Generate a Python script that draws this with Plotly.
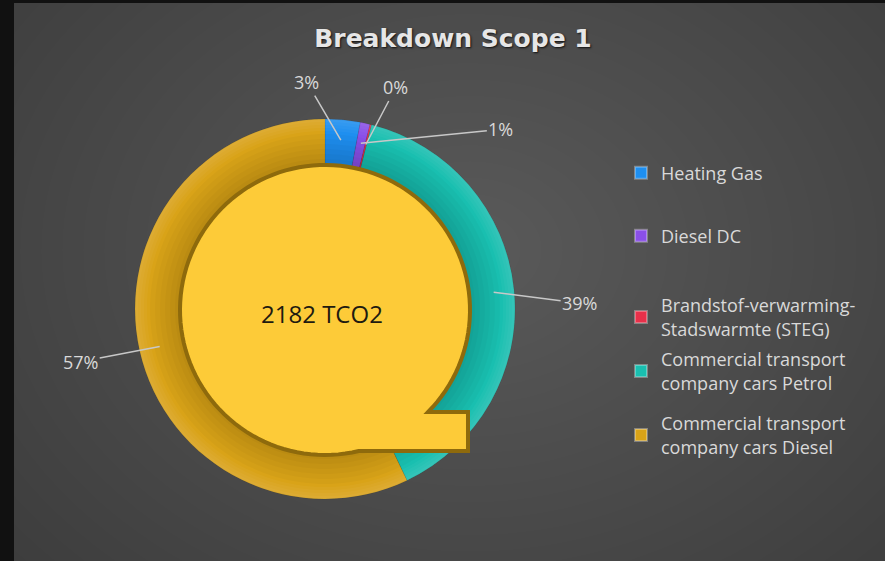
import math
import plotly.graph_objects as go

# ── Data ──────────────────────────────────────────────────────────────────────
CATEGORIES = [
    "Heating Gas",
    "Diesel DC",
    "Brandstof-verwarming-<br>Stadswarmte (STEG)",
    "Commercial transport<br>company cars Petrol",
    "Commercial transport<br>company cars Diesel",
]
EMISSIONS = [65, 18, 3, 850, 1246]   # tCO2, total 2182
UNIT = "TCO2"

# ── Style ─────────────────────────────────────────────────────────────────────
COLORS = ["#1E8FF0", "#8A4FE8", "#E8304A", "#19BFB0", "#D9A318"]
C_TEXT = "#D9D9D9"
C_BG = "#3A3A3A"
W, H = 885, 561
CX, CY, R_OUT, R_IN = 325, 309, 190, 145      # ring geometry, px
LABEL_OFFSETS = [(-34, -58), (140, -14), (30, -57), (86, 11), (-79, 15)]
LEGEND_Y = [173, 236, 317, 371, 435]           # px centres of legend entries
FONT = "'Open Sans', sans-serif"


def px(x, y):
    return x / W, 1 - y / H


def ring(r0, r1, n=180):
    """closed annulus path in paper coords (inner circle reversed -> hole)"""
    outer = [px(CX + r1 * math.cos(2 * math.pi * i / n), CY + r1 * math.sin(2 * math.pi * i / n)) for i in range(n)]
    inner = [px(CX + r0 * math.cos(-2 * math.pi * i / n), CY + r0 * math.sin(-2 * math.pi * i / n)) for i in range(n)]
    f = lambda pts: "M " + " L ".join(f"{a:.5f},{b:.5f}" for a, b in pts) + " Z"
    return f(outer) + " " + f(inner)


total = sum(EMISSIONS)
pcts = [v / total * 100 for v in EMISSIONS]

fig = go.Figure()
fig.add_trace(go.Pie(
    labels=CATEGORIES, values=EMISSIONS,
    sort=False, direction="clockwise", rotation=0,
    hole=0.74, textinfo="none", showlegend=False,
    marker=dict(colors=COLORS, line=dict(color="rgba(0,0,0,0.15)", width=0.5)),
    domain=dict(x=[(CX - R_OUT) / W, (CX + R_OUT) / W],
                y=[1 - (CY + R_OUT) / H, 1 - (CY - R_OUT) / H]),
    hovertemplate="%{label}: %{value} tCO2 (%{percent})<extra></extra>",
))

# legend entries, each in its own legend box so they can be spread like the original
legends = {}
for i, (name, color) in enumerate(zip(CATEGORIES, COLORS)):
    key = "legend" if i == 0 else f"legend{i + 1}"
    fig.add_trace(go.Scatter(
        x=[None], y=[None], mode="markers", name=name, legend=key,
        marker=dict(symbol="square", size=8, color=color,
                    line=dict(color="rgba(255,255,255,0.3)", width=1)),
    ))
    legends[key] = dict(x=621 / W, y=1 - LEGEND_Y[i] / H, xanchor="left", yanchor="middle",
                        bgcolor="rgba(0,0,0,0)", itemsizing="constant",
                        font=dict(family=FONT, size=18, color=C_TEXT))

# percentage labels with leader lines, anchored at slice mid-angles
annotations = []
cum = 0
r_mid = (R_OUT + R_IN) / 2 + 2
for v, p, (ox, oy) in zip(EMISSIONS, pcts, LABEL_OFFSETS):
    ang = math.radians((cum + v / 2) / total * 360)
    cum += v
    hx, hy = CX + r_mid * math.sin(ang), CY - r_mid * math.cos(ang)
    x, y = px(hx, hy)
    annotations.append(dict(
        x=x, y=y, xref="paper", yref="paper", ax=ox, ay=oy,
        text=f"{round(p)}%", showarrow=True, arrowhead=0, arrowwidth=1.5,
        arrowcolor="#C8C8C8", font=dict(family=FONT, size=18, color=C_TEXT),
    ))

cx_p, cy_p = px(CX - 3, CY + 4)
annotations.append(dict(
    x=cx_p, y=cy_p, xref="paper", yref="paper", showarrow=False,
    text=f"{total} {UNIT}", font=dict(family=FONT, size=24, color="#1E1A10"),
))

# ── Background: soft radial light + dark frame ────────────────────────────────
shapes = []
for k in range(30):
    rx = 660 - k * 21
    ry = rx * 0.78
    x0, y0 = px(470 - rx, 250 - ry)
    x1, y1 = px(470 + rx, 250 + ry)
    shapes.append(dict(type="circle", xref="paper", yref="paper",
                       x0=x0, x1=x1, y0=y1, y1=y0, layer="below",
                       fillcolor="rgba(255,255,255,0.0095)", line=dict(width=0)))
shapes.append(dict(type="rect", xref="paper", yref="paper", x0=0, x1=14 / W,
                   y0=0, y1=1, fillcolor="#111111", line=dict(width=0), layer="below"))
shapes.append(dict(type="rect", xref="paper", yref="paper", x0=0, x1=1,
                   y0=1 - 3 / H, y1=1, fillcolor="#111111", line=dict(width=0), layer="below"))

# soft bevel shading on the ring (stacked faint annuli)
for k in range(1, 5):
    shapes.append(dict(type="path", xref="paper", yref="paper", path=ring(R_OUT - 3 * k, R_OUT),
                       layer="above", fillcolor="rgba(255,255,255,0.03)", line=dict(width=0)))
for k in range(1, 7):
    shapes.append(dict(type="path", xref="paper", yref="paper", path=ring(R_IN, R_IN + 5 * k),
                       layer="above", fillcolor="rgba(0,0,0,0.025)", line=dict(width=0)))

# ── Yellow callout inside the ring (circle with a square notch) ───────────────
R_Y, CYY = 145, CY + 1
notch_top, notch_bot, notch_right = 412, 451, 468
a_start = math.degrees(math.atan2(notch_bot - CYY, math.sqrt(R_Y**2 - (notch_bot - CYY)**2)))
a_end = 360 + math.degrees(math.atan2(notch_top - CYY, math.sqrt(R_Y**2 - (notch_top - CYY)**2)))
pts = []
n = 120
for i in range(n + 1):
    a = math.radians(a_start + (a_end - a_start) * i / n)
    pts.append((CX + R_Y * math.cos(a), CYY + R_Y * math.sin(a)))
pts += [(notch_right, notch_top), (notch_right, notch_bot)]
path = "M " + " L ".join(f"{px(x, y)[0]:.5f},{px(x, y)[1]:.5f}" for x, y in pts) + " Z"
shapes.append(dict(type="path", xref="paper", yref="paper", path=path, layer="above",
                   fillcolor="#FDCB38", line=dict(color="#8E6A0C", width=4)))

fig.update_layout(
    width=W, height=H,
    paper_bgcolor=C_BG, plot_bgcolor="rgba(0,0,0,0)",
    margin=dict(l=0, r=0, t=0, b=0),
    font=dict(family=FONT, color=C_TEXT),
    title=dict(text="Breakdown Scope 1", x=453 / W, xanchor="center",
               y=1 - 38 / H, yanchor="middle", yref="container",
               font=dict(family="'DejaVu Sans', sans-serif", size=25, color="#E6E6E6",
                         weight="bold", shadow="1px 1px 2px #111")),
    xaxis=dict(visible=False), yaxis=dict(visible=False),
    shapes=shapes,
    annotations=annotations,
    **legends,
)

fig.write_html("out.html", config={"displayModeBar": False},
               post_script="document.body.style.margin='0';")
